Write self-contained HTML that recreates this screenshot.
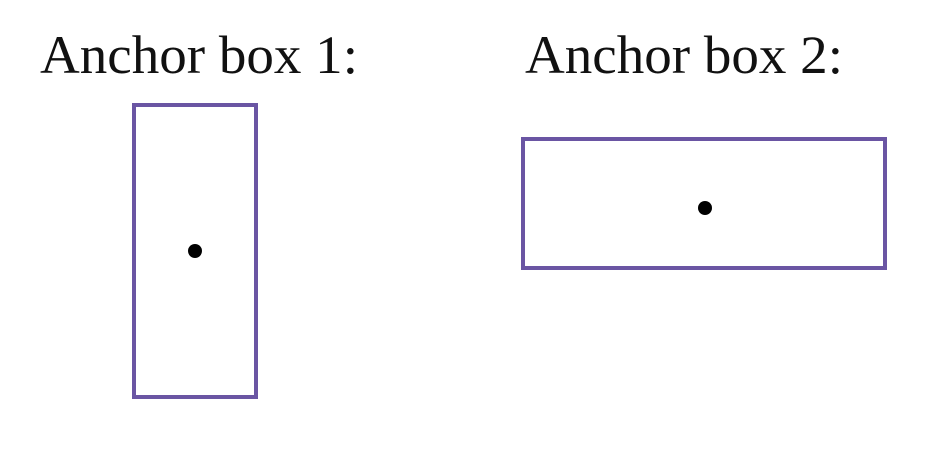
<!DOCTYPE html>
<html><head><style>html,body{margin:0;padding:0;background:#fff;}</style></head>
<body>
<svg width="946" height="466" xmlns="http://www.w3.org/2000/svg">
<rect width="946" height="466" fill="#fff"/>
<text x="40" y="73" font-family="Liberation Serif, serif" font-size="54" fill="#111" textLength="318" lengthAdjust="spacingAndGlyphs">Anchor box 1:</text>
<text x="525" y="73" font-family="Liberation Serif, serif" font-size="54" fill="#111" textLength="318" lengthAdjust="spacingAndGlyphs">Anchor box 2:</text>
<rect x="134" y="105" width="122" height="292" fill="none" stroke="#6a55a3" stroke-width="4"/>
<circle cx="195" cy="251" r="7" fill="#000"/>
<rect x="523" y="139" width="362" height="129" fill="none" stroke="#6a55a3" stroke-width="4"/>
<circle cx="705" cy="208" r="7" fill="#000"/>
</svg>
</body></html>
